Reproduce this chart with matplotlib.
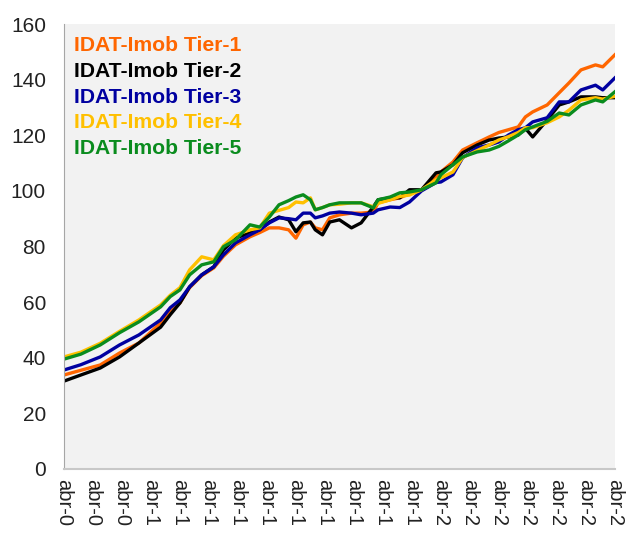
import matplotlib
matplotlib.use('Agg')
import matplotlib.pyplot as plt

plt.rcParams['font.family'] = ['Liberation Sans', 'DejaVu Sans']

# month index (0 = first label, 228 = last label)
months = [0, 7, 15, 23, 31, 40, 44, 48, 52, 57, 62, 66, 71, 77, 81, 85, 89, 93, 96, 99,
          102, 104, 107, 110, 114, 119, 123, 128, 130, 135, 139, 143, 148, 154, 156, 161,
          165, 171, 176, 180, 184, 188, 191, 194, 200, 205, 209, 214, 220, 223, 228]

tier1 = [33.8, 35.5, 37.4, 41.7, 45.3, 52.5, 56.5, 59.7, 65.2, 69.5, 72.3, 76.5, 80.6, 83.5,
         85.0, 86.7, 86.7, 86.0, 83.0, 87.8, 88.8, 86.7, 86.0, 90.3, 91.4, 92.0, 92.0, 92.4,
         95.7, 96.8, 97.5, 99.0, 100.4, 105.0, 106.8, 110.4, 114.7, 117.3, 119.4, 121.0,
         122.0, 123.0, 126.6, 128.4, 130.9, 135.3, 138.8, 143.5, 145.3, 144.6, 148.9]
tier2 = [31.6, 33.8, 36.3, 40.3, 45.3, 51.0, 55.5, 59.7, 65.5, 69.8, 72.7, 78.8, 83.0, 84.9,
         86.0, 88.8, 90.6, 89.6, 85.3, 88.5, 88.8, 86.0, 84.2, 88.8, 89.6, 86.7, 88.5, 94.2,
         96.8, 97.5, 97.5, 100.4, 100.4, 106.5, 106.8, 109.4, 113.7, 116.5, 118.3, 119.0,
         119.4, 120.1, 122.5, 119.4, 125.5, 130.9, 132.0, 133.8, 133.8, 133.5, 133.5]
tier3 = [35.6, 37.5, 40.3, 44.6, 48.2, 53.6, 58.0, 60.8, 65.5, 69.8, 72.7, 77.0, 81.3, 84.2,
         86.0, 88.5, 90.3, 90.0, 89.6, 92.0, 92.0, 90.3, 91.0, 92.0, 92.4, 92.0, 91.4, 92.0,
         93.2, 94.2, 94.0, 96.0, 100.0, 103.0, 103.2, 105.8, 111.9, 115.5, 116.5, 117.6,
         120.1, 122.0, 122.7, 124.8, 126.3, 132.0, 132.0, 136.3, 138.0, 136.3, 140.6]
tier4 = [40.3, 42.0, 45.2, 49.5, 53.6, 59.0, 62.5, 65.2, 71.6, 76.3, 75.2, 80.3, 84.2, 86.0,
         86.7, 92.0, 93.0, 94.0, 96.0, 95.7, 97.5, 93.2, 94.0, 95.0, 95.2, 95.7, 95.7, 94.3,
         95.5, 96.8, 98.0, 98.5, 100.4, 104.0, 104.7, 106.8, 112.0, 114.5, 116.5, 118.3,
         119.5, 121.0, 122.7, 122.7, 124.5, 126.6, 129.0, 132.7, 133.5, 133.0, 134.0]
tier5 = [39.5, 41.3, 44.6, 49.0, 52.9, 58.3, 62.0, 64.4, 69.8, 73.4, 74.5, 79.9, 82.4, 87.8,
         87.0, 90.6, 95.0, 96.5, 97.8, 98.6, 96.8, 93.2, 94.0, 95.0, 95.7, 95.7, 95.7, 93.9,
         96.8, 97.8, 99.3, 99.6, 100.4, 102.9, 105.8, 109.4, 112.2, 114.0, 114.7, 116.0,
         118.0, 120.1, 122.0, 123.0, 125.0, 128.0, 127.3, 130.9, 132.7, 132.0, 135.6]

names = ['IDAT-Imob Tier-1', 'IDAT-Imob Tier-2', 'IDAT-Imob Tier-3',
         'IDAT-Imob Tier-4', 'IDAT-Imob Tier-5']
colors = ['#FF6600', '#000000', '#0000A0', '#FFC000', '#0A8C1E']

tick_pos = list(range(0, 229, 12))
tick_labels = ['abr-0'] * 3 + ['abr-1'] * 10 + ['abr-2'] * 7

fig = plt.figure(figsize=(6.28, 5.35), dpi=100)
ax = fig.add_axes([0.1019, 0.1234, 0.8771, 0.8317])
ax.set_facecolor('#F2F2F2')

for ys, name, c in zip([tier1, tier2, tier3, tier4, tier5], names, colors):
    ax.plot(months, ys, color=c, lw=2.4, label=name, solid_joinstyle='round')

ax.set_xlim(0, 228)
ax.set_ylim(0, 160)
ax.set_yticks(range(0, 161, 20))
ax.set_xticks(tick_pos)
ax.set_xticklabels(tick_labels, rotation=-90, ha='center', va='top')
ax.tick_params(axis='y', length=0, pad=13, labelsize=15, labelcolor='#222222')
ax.tick_params(axis='x', length=0, pad=7, labelsize=14.5, labelcolor='#222222')

for s in ['top', 'right']:
    ax.spines[s].set_visible(False)
ax.spines['left'].set_color('#A6A6A6')
ax.spines['bottom'].set_color('#C8C8C8')
ax.spines['bottom'].set_linewidth(1.5)

leg = ax.legend(loc='upper left', bbox_to_anchor=(0, 0.995), frameon=False,
                handlelength=0, handletextpad=0,
                labelcolor='linecolor', prop={'weight': 'bold', 'size': 15.2},
                labelspacing=0.32, borderaxespad=0.0, borderpad=0.47)
for h in leg.legend_handles:
    h.set_visible(False)

fig.savefig('out.png', dpi=100)
